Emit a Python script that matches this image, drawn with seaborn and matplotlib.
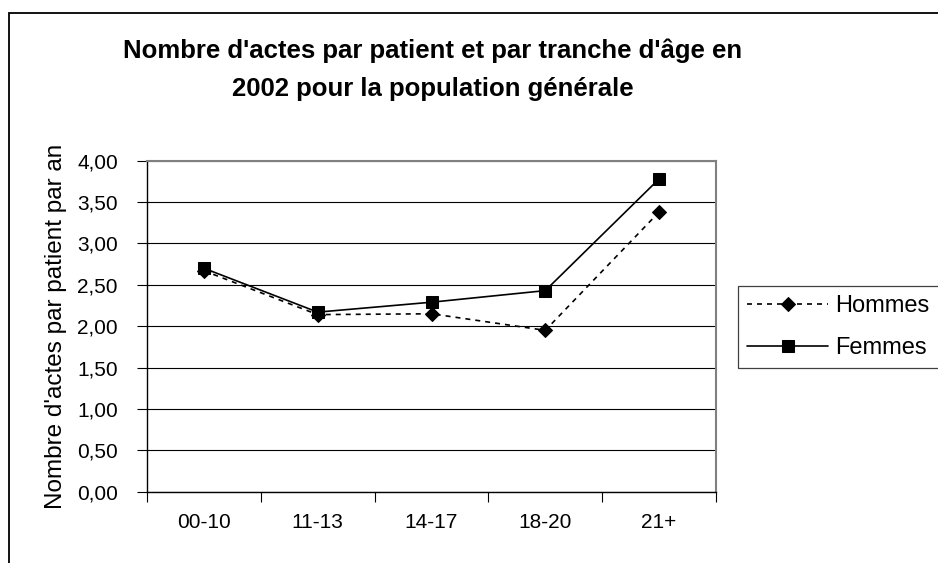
import numpy as np
import pandas as pd
import matplotlib
matplotlib.use("Agg")
import matplotlib.pyplot as plt
from matplotlib.patches import Rectangle
from matplotlib.ticker import FixedLocator, FuncFormatter
import seaborn as sns

# Data
tranches = ["00-10", "11-13", "14-17", "18-20", "21+"]
hommes = [2.67, 2.14, 2.15, 1.95, 3.38]
femmes = [2.70, 2.17, 2.29, 2.43, 3.78]

titre = "Nombre d'actes par patient et par tranche d'âge en\n2002 pour la population générale"
ylabel = "Nombre d'actes par patient par an"

sns.set_theme(style="white")
plt.rcParams["font.family"] = ["Liberation Sans", "DejaVu Sans"]
plt.rcParams["text.color"] = "black"
plt.rcParams["axes.labelcolor"] = "black"
plt.rcParams["xtick.color"] = "black"
plt.rcParams["ytick.color"] = "black"

df = pd.DataFrame({
    "tranche": tranches * 2,
    "valeur": hommes + femmes,
    "sexe": ["Hommes"] * len(tranches) + ["Femmes"] * len(tranches),
})

fig = plt.figure(figsize=(9.38, 5.63), dpi=100)
ax = fig.add_axes([147 / 938, 1 - 491.7 / 563, (716 - 147) / 938, (491.7 - 160.7) / 563])

sns.lineplot(data=df[df["sexe"] == "Hommes"], x="tranche", y="valeur", ax=ax,
             color="black", lw=1.2, marker="D", markersize=7.5,
             markeredgecolor="black", label="Hommes")
sns.lineplot(data=df[df["sexe"] == "Femmes"], x="tranche", y="valeur", ax=ax,
             color="black", lw=1.2, marker="s", markersize=8,
             markeredgecolor="black", label="Femmes")
ax.lines[0].set_dashes((3, 3))

ax.set_xlim(-0.5, 4.5)
ax.set_ylim(0, 4)
ax.set_yticks(np.arange(0, 4.01, 0.5))
ax.yaxis.set_major_formatter(FuncFormatter(lambda v, p: f"{v:.2f}".replace(".", ",")))
ax.yaxis.grid(True, color="black", lw=0.8)
ax.xaxis.grid(False)

# Excel-style x ticks between categories
ax.set_xticks(range(len(tranches)))
ax.set_xticklabels(tranches)
ax.xaxis.set_minor_locator(FixedLocator(np.arange(-0.5, 4.6, 1.0)))
ax.tick_params(axis="x", which="major", length=0, pad=15, labelsize=15)
ax.tick_params(axis="x", which="minor", length=7, width=0.8, color="black", direction="out", bottom=True)
ax.tick_params(axis="y", length=7, width=0.8, color="black", direction="out", left=True, pad=14, labelsize=15)

for s in ["left", "bottom"]:
    ax.spines[s].set_color("black")
    ax.spines[s].set_linewidth(1.0)
for s in ["top", "right"]:
    ax.spines[s].set_color("#808080")
    ax.spines[s].set_linewidth(1.5)

ax.set_xlabel("")
ax.set_ylabel(ylabel, fontsize=17.5, labelpad=7)

fig.text(433 / 938, 1 - 70 / 563, titre, ha="center", va="center",
         fontsize=18.5, fontweight="bold", linespacing=1.75)

leg = ax.legend(loc="upper left", bbox_to_anchor=(738 / 938, 1 - 286 / 563),
                bbox_transform=fig.transFigure, fontsize=17, frameon=True,
                fancybox=False, framealpha=1, edgecolor="#404040", handlelength=3.4,
                handletextpad=0.3, labelspacing=0.82, borderpad=0.4, borderaxespad=0)
leg.get_frame().set_linewidth(0.9)

# chart outer border (runs off the right and bottom of the image)
fig.add_artist(Rectangle((8.5 / 938, -0.05), 1.2, 1 - 12.5 / 563 + 0.05,
                         transform=fig.transFigure, fill=False, ec="black", lw=1.3))

fig.savefig("out.png", dpi=100)
